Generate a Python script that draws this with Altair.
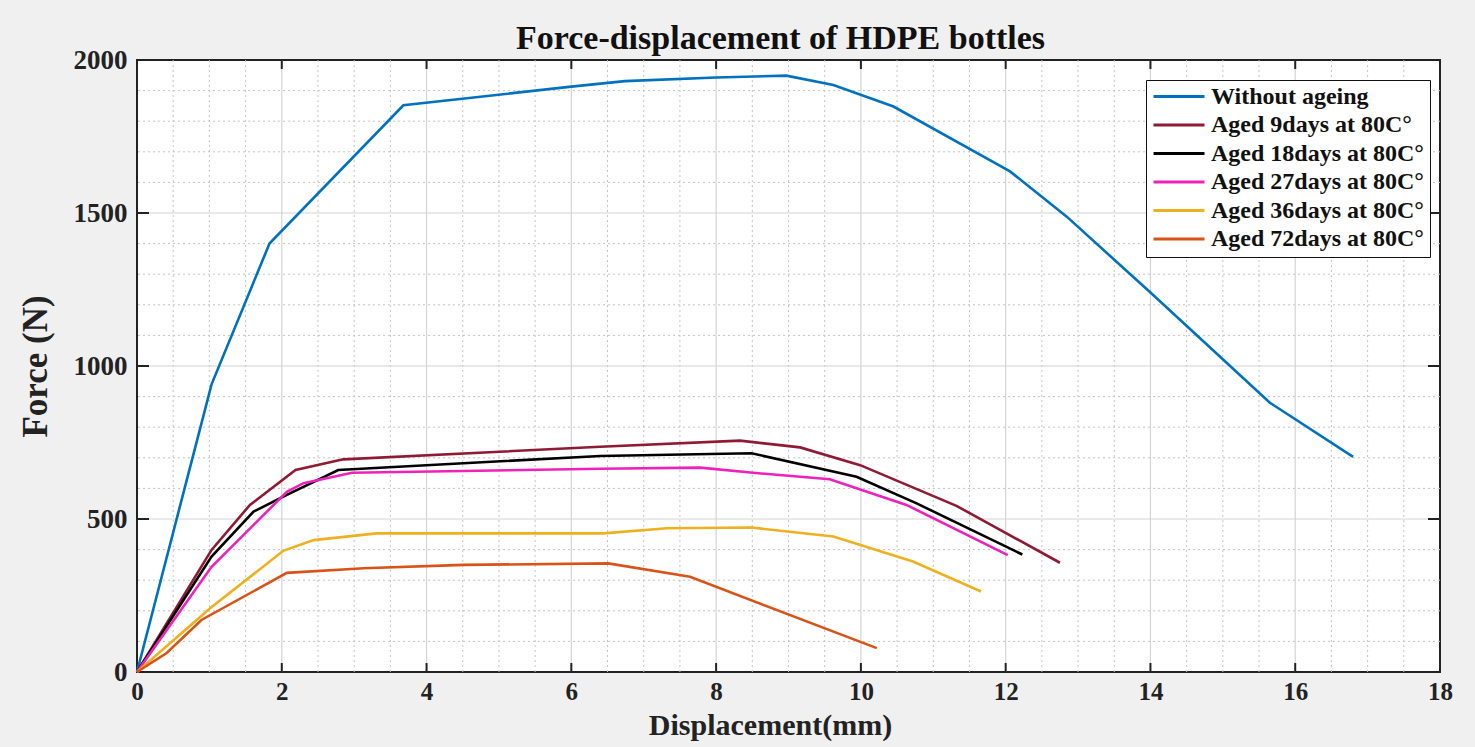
import altair as alt
import pandas as pd
import numpy as np

# ---------------- data ----------------
series_names = [
    "Without ageing",
    "Aged 9days at 80C°",
    "Aged 18days at 80C°",
    "Aged 27days at 80C°",
    "Aged 36days at 80C°",
    "Aged 72days at 80C°",
]
series_colors = ["#0072BD", "#8E1B33", "#000000", "#EE22BB", "#EDB120", "#D95319"]

x_without = [0, 1.03, 1.83, 3.68, 6.0, 6.74, 8.0, 8.97, 9.62, 10.45, 12.06, 12.84, 14.0, 15.65, 16.8]
y_without = [0, 940, 1400, 1852, 1913, 1931, 1943, 1949, 1918, 1848, 1636, 1489, 1240, 880, 703]

x_aged9 = [0, 1.03, 1.56, 2.19, 2.85, 6.4, 8.33, 9.16, 9.99, 11.32, 12.75]
y_aged9 = [0, 399, 546, 660, 695, 736, 756, 734, 676, 543, 357]

x_aged18 = [0, 1.03, 1.61, 2.02, 2.78, 6.4, 8.49, 9.94, 10.77, 12.23]
y_aged18 = [0, 377, 524, 573, 660, 706, 715, 638, 551, 384]

x_aged27 = [0, 1.03, 2.07, 2.3, 2.97, 6.4, 7.78, 8.51, 9.57, 10.63, 12.03]
y_aged27 = [0, 344, 589, 617, 651, 664, 668, 651, 630, 546, 382]

x_aged36 = [0, 1.01, 2.02, 2.44, 3.31, 6.44, 7.32, 8.49, 9.62, 10.72, 11.66]
y_aged36 = [0, 208, 396, 431, 453, 453, 470, 472, 443, 361, 263]

x_aged72 = [0, 0.41, 0.89, 2.07, 3.13, 4.51, 6.51, 7.64, 10.22]
y_aged72 = [0, 62, 170, 324, 339, 350, 355, 311, 78]

x_major = [0, 2, 4, 6, 8, 10, 12, 14, 16, 18]
y_major = [0, 500, 1000, 1500, 2000]
x_minor = [v / 2 for v in range(1, 36) if v % 4 != 0]
y_minor = [v for v in range(100, 2000, 100) if v % 500 != 0]

title_text = "Force-displacement of HDPE bottles"
x_title = "Displacement(mm)"
y_title = "Force (N)"

# ---------------- build table ----------------
xs = [x_without, x_aged9, x_aged18, x_aged27, x_aged36, x_aged72]
ys = [y_without, y_aged9, y_aged18, y_aged27, y_aged36, y_aged72]
rows = []
for name, xv, yv in zip(series_names, xs, ys):
    for i, (a, b) in enumerate(zip(xv, yv)):
        rows.append({"series": name, "x": a, "y": b, "order": i})
df = pd.DataFrame(rows)

W, H = 1303, 612
FONT = "Liberation Serif"

xscale = alt.Scale(domain=[0, 18], nice=False, zero=False)
yscale = alt.Scale(domain=[0, 2000], nice=False, zero=False)

x_axis = alt.Axis(values=x_major, title=x_title, grid=False, ticks=False,
                  domain=False, labelPadding=7, labelFlush=False, format="d",
                  labelFontSize=25,
                  titleY=38, titleBaseline="top", titleFontSize=30, titleX=633)
y_axis = alt.Axis(values=y_major, title=y_title, grid=False, ticks=False,
                  domain=False, labelPadding=10, labelFlush=False, format="d",
                  titleX=-102, titleY=306, titleAngle=-90, titleBaseline="middle",
                  titleAlign="center", titleFontSize=35)

def X(field):
    return alt.X(field, scale=xscale, axis=x_axis, title=x_title)

def Y(field):
    return alt.Y(field, scale=yscale, axis=y_axis, title=y_title)

# grid
gx_minor = alt.Chart(pd.DataFrame({"v": x_minor})).mark_rule(
    color="#c4c4c4", strokeWidth=1, strokeDash=[2, 3]
).encode(x=X("v:Q"))
gy_minor = alt.Chart(pd.DataFrame({"v": y_minor})).mark_rule(
    color="#c4c4c4", strokeWidth=1, strokeDash=[2, 3]
).encode(y=Y("v:Q"))
gx_major = alt.Chart(pd.DataFrame({"v": x_major[1:-1]})).mark_rule(
    color="#d4d4d4", strokeWidth=1.2
).encode(x=X("v:Q"))
gy_major = alt.Chart(pd.DataFrame({"v": y_major[1:-1]})).mark_rule(
    color="#d4d4d4", strokeWidth=1.2
).encode(y=Y("v:Q"))

# inward ticks
tdx = pd.DataFrame({"v": x_major[1:-1]})
tdy = pd.DataFrame({"v": y_major[1:-1]})
tick_bottom = alt.Chart(tdx).mark_rule(color="#222", strokeWidth=2).encode(
    x=X("v:Q"), y=alt.value(H), y2=alt.value(H - 9))
tick_top = alt.Chart(tdx).mark_rule(color="#222", strokeWidth=2).encode(
    x=X("v:Q"), y=alt.value(0), y2=alt.value(9))
tick_left = alt.Chart(tdy).mark_rule(color="#222", strokeWidth=2).encode(
    y=Y("v:Q"), x=alt.value(0), x2=alt.value(12))
tick_right = alt.Chart(tdy).mark_rule(color="#222", strokeWidth=2).encode(
    y=Y("v:Q"), x=alt.value(W), x2=alt.value(W - 12))

lines = alt.Chart(df).mark_line(strokeWidth=2.6).encode(
    x=X("x:Q"),
    y=Y("y:Q"),
    color=alt.Color("series:N",
                    scale=alt.Scale(domain=series_names, range=series_colors),
                    sort=series_names,
                    legend=alt.Legend(title=None, orient="none", legendX=1009, legendY=20,
                                      symbolType="stroke", symbolSize=2600,
                                      symbolStrokeWidth=2.8, labelFont=FONT,
                                      labelFontWeight="bold", labelFontSize=24,
                                      labelColor="#111", labelOffset=5, padding=6,
                                      clipHeight=21, rowPadding=3.5,
                                      strokeColor="#111",
                                      fillColor="white", labelLimit=400)),
    order="order:Q",
)

chart = alt.layer(
    gx_minor, gy_minor, gx_major, gy_major, lines,
    tick_bottom, tick_top, tick_left, tick_right,
).properties(
    width=W, height=H,
    title=alt.TitleParams(title_text, font=FONT, fontSize=34, fontWeight="bold",
                          color="#111", anchor="middle", offset=12, dx=-8, dy=22),
    autosize=alt.AutoSizeParams(type="none"),
    padding={"left": 137, "top": 60, "right": 35, "bottom": 75},
    background="#f0f0f0",
).configure_view(
    fill="white", stroke="#222", strokeWidth=2
).configure_axis(
    labelFont=FONT, labelFontWeight="bold", labelFontSize=27, labelColor="#222",
    titleFont=FONT, titleFontWeight="bold", titleColor="#222",
)

chart.save("out.html", embed_options={"renderer": "svg", "actions": False})
